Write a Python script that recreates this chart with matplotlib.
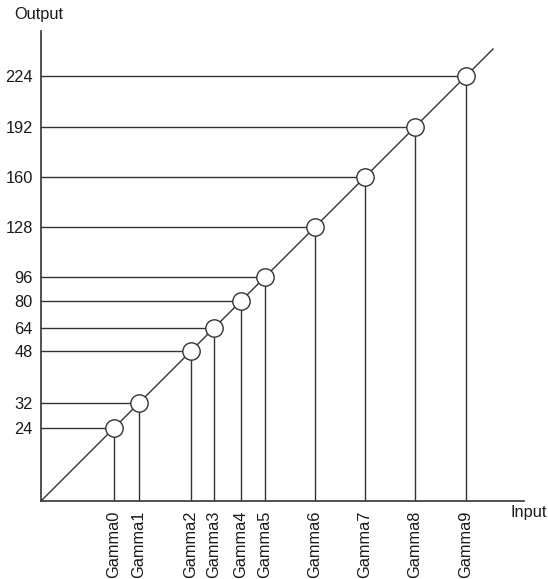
import matplotlib.pyplot as plt

# output levels and the gamma taps they belong to
levels = [24, 32, 48, 64, 80, 96, 128, 160, 192, 224]
names = ['Gamma0', 'Gamma1', 'Gamma2', 'Gamma3', 'Gamma4',
         'Gamma5', 'Gamma6', 'Gamma7', 'Gamma8', 'Gamma9']
# where each tap sits along the diagonal (schematic, not to scale)
pos = [73, 98, 150, 173, 200, 224, 274, 324, 374, 425]
diag_end = 452

W, H = 548, 579
fig = plt.figure(figsize=(W / 100, H / 100), dpi=100)
plt.rcParams['font.family'] = ['Liberation Sans', 'DejaVu Sans']
fs = 11.8

x0, y0, x1, y1 = 41, 501, 524, 31
ax = fig.add_axes([x0 / W, (H - y0) / H, (x1 - x0) / W, (y0 - y1) / H])
ax.set_xlim(0, x1 - x0)
ax.set_ylim(0, y0 - y1)

lc = '#333333'
for s in ['top', 'right']:
    ax.spines[s].set_visible(False)
for s in ['left', 'bottom']:
    ax.spines[s].set_color(lc)
    ax.spines[s].set_linewidth(1.2)

ax.plot([0, diag_end], [0, diag_end], color=lc, lw=1.0, zorder=2)
for p in pos:
    ax.plot([0, p], [p, p], color=lc, lw=1.0, zorder=2)
    ax.plot([p, p], [0, p], color=lc, lw=1.0, zorder=2)
ax.plot(pos, pos, 'o', ms=12.5, mfc='white', mec=lc, mew=1.0, zorder=3,
        clip_on=False)

ax.set_yticks(pos)
ax.set_yticklabels([str(v) for v in levels], fontsize=fs, color='#1a1a1a')
ax.set_xticks(pos)
ax.set_xticklabels(names, rotation=90, fontsize=fs, color='#1a1a1a')
ax.tick_params(length=0)
ax.tick_params(axis='y', pad=6)
ax.tick_params(axis='x', pad=7)

fig.text(14 / W, 1 - 15 / H, 'Output', fontsize=fs, color='#1a1a1a',
         ha='left', va='center')
fig.text(511 / W, 1 - 513 / H, 'Input', fontsize=fs, color='#1a1a1a',
         ha='left', va='center')

fig.savefig('out.png', dpi=100)
